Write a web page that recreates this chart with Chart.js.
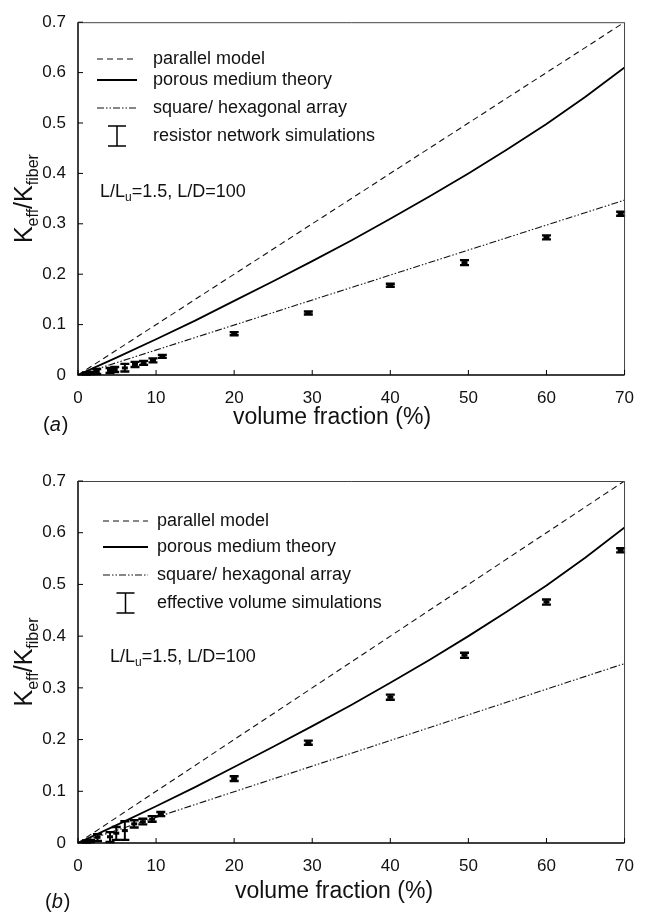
<!DOCTYPE html>
<html>
<head>
<meta charset="utf-8">
<script src="https://cdn.jsdelivr.net/npm/chart.js@4.4.1/dist/chart.umd.min.js"></script>
<style>
  body { margin: 0; background: #fff; }
  canvas { display: block; }
</style>
</head>
<body>
<canvas id="chartA" width="647" height="448"></canvas>
<canvas id="chartB" width="647" height="469"></canvas>
<script>
// axis ticks
const xTicks = [0, 10, 20, 30, 40, 50, 60, 70];
const yTicks = [0, 0.1, 0.2, 0.3, 0.4, 0.5, 0.6, 0.7];

// model curves (volume fraction in %)
const lineX = [0, 70];
const parallelY = [0, 0.7];
const arrayY = [0, 0.347];
const porousX = [0, 5, 10, 15, 20, 25, 30, 35, 40, 45, 50, 55, 60, 65, 70];
const porousY = [0, 0.035, 0.071, 0.108, 0.147, 0.186, 0.226, 0.267, 0.31, 0.354, 0.4, 0.448, 0.498, 0.552, 0.61];

// (a) resistor network simulations
const simXA = [1.1, 1.6, 2.4, 4.1, 4.7, 6.0, 7.3, 8.4, 9.6, 10.8, 20, 29.5, 40, 49.5, 60, 69.5];
const simYA = [0.003, 0.004, 0.007, 0.009, 0.011, 0.014, 0.021, 0.024, 0.029, 0.037, 0.082, 0.123, 0.178, 0.223, 0.273, 0.320];
const simLoA = [0.001, 0.002, 0.002, 0.004, 0.006, 0.007, 0.016, 0.020, 0.025, 0.034, 0.079, 0.120, 0.175, 0.218, 0.269, 0.316];
const simHiA = [0.005, 0.006, 0.012, 0.014, 0.016, 0.022, 0.026, 0.028, 0.033, 0.040, 0.085, 0.126, 0.181, 0.228, 0.277, 0.324];

// (b) effective volume simulations
const simXB = [1.1, 1.6, 2.5, 4.1, 4.9, 6.0, 7.2, 8.3, 9.5, 10.6, 20, 29.5, 40, 49.5, 60, 69.5];
const simYB = [0.003, 0.004, 0.011, 0.012, 0.019, 0.024, 0.037, 0.041, 0.046, 0.056, 0.1245, 0.194, 0.282, 0.363, 0.466, 0.566];
const simLoB = [0.001, 0.002, 0.004, 0.002, 0.006, 0.006, 0.030, 0.036, 0.041, 0.052, 0.120, 0.190, 0.277, 0.358, 0.461, 0.562];
const simHiB = [0.005, 0.006, 0.017, 0.021, 0.031, 0.042, 0.044, 0.047, 0.052, 0.060, 0.129, 0.198, 0.287, 0.368, 0.471, 0.570];

const FONT = "'Liberation Sans', Arial, Helvetica, sans-serif";
Chart.defaults.font.family = FONT;
Chart.defaults.color = "#111";

const DASH_PARALLEL = [6, 4];
const DASH_ARRAY = [7, 2, 1.5, 2, 1.5, 2];

function pts(xs, ys) {
  return xs.map((x, i) => ({ x: x, y: ys[i] }));
}

// frame, inward ticks, error bars, legend and labels
const paperPlugin = {
  id: "paper",
  afterDatasetsDraw(chart) {
    let ctx = chart.ctx;
    let ys = chart.scales.y;
    chart.data.datasets.forEach((ds, di) => {
      if (!ds.errLo) return;
      let meta = chart.getDatasetMeta(di);
      meta.data.forEach((p, i) => {
        let top = ys.getPixelForValue(ds.errHi[i]);
        let bot = ys.getPixelForValue(ds.errLo[i]);
        ctx.save();
        ctx.strokeStyle = "#000";
        ctx.lineWidth = 2;
        ctx.beginPath();
        ctx.moveTo(p.x, top);
        ctx.lineTo(p.x, bot);
        ctx.stroke();
        ctx.lineWidth = 2.4;
        ctx.beginPath();
        ctx.moveTo(p.x - 4.5, top);
        ctx.lineTo(p.x + 4.5, top);
        ctx.moveTo(p.x - 4.5, bot);
        ctx.lineTo(p.x + 4.5, bot);
        ctx.stroke();
        ctx.fillStyle = "#000";
        ctx.fillRect(p.x - 3, p.y - 1.5, 6, 3);
        ctx.restore();
      });
    });
  },
  afterDraw(chart) {
    let ctx = chart.ctx;
    let a = chart.chartArea;
    let o = chart.options.plugins.paper;
    let xs = chart.scales.x, ys = chart.scales.y;

    ctx.save();
    // frame
    ctx.strokeStyle = "#000";
    ctx.lineWidth = 1.5;
    ctx.beginPath();
    ctx.moveTo(a.left, a.top);
    ctx.lineTo(a.left, a.bottom);
    ctx.lineTo(a.right, a.bottom);
    ctx.stroke();
    ctx.strokeStyle = "#444";
    ctx.lineWidth = 1;
    ctx.beginPath();
    ctx.moveTo(a.left, a.top + 0.5);
    ctx.lineTo(a.right, a.top + 0.5);
    ctx.lineTo(a.right, a.bottom);
    ctx.stroke();

    // inward ticks
    ctx.strokeStyle = "#000";
    ctx.lineWidth = 1;
    ctx.beginPath();
    xTicks.forEach((v) => {
      let px = xs.getPixelForValue(v);
      ctx.moveTo(px, a.bottom);
      ctx.lineTo(px, a.bottom - 5);
    });
    yTicks.forEach((v) => {
      let py = ys.getPixelForValue(v);
      ctx.moveTo(a.left, py);
      ctx.lineTo(a.left + 5, py);
    });
    ctx.stroke();

    // legend
    ctx.textBaseline = "middle";
    ctx.textAlign = "left";
    ctx.font = "18px " + FONT;
    ctx.fillStyle = "#111";
    chart.data.datasets.forEach((ds, i) => {
      let y = o.legendRows[i];
      if (ds.errLo) {
        let cx = (o.legendX0 + o.legendX1) / 2;
        ctx.strokeStyle = "#000";
        ctx.lineWidth = 1.5;
        ctx.setLineDash([]);
        ctx.beginPath();
        ctx.moveTo(cx, y - 10);
        ctx.lineTo(cx, y + 10);
        ctx.moveTo(cx - 9, y - 10);
        ctx.lineTo(cx + 9, y - 10);
        ctx.moveTo(cx - 9, y + 10);
        ctx.lineTo(cx + 9, y + 10);
        ctx.stroke();
      } else {
        ctx.strokeStyle = ds.borderColor;
        ctx.lineWidth = ds.borderWidth;
        ctx.setLineDash(ds.borderDash || []);
        ctx.beginPath();
        ctx.moveTo(o.legendX0, y);
        ctx.lineTo(o.legendX1, y);
        ctx.stroke();
      }
      ctx.setLineDash([]);
      ctx.fillText(ds.label, o.legendTextX, y);
    });

    // L/Lu=1.5, L/D=100
    let nx = o.noteX, ny = o.noteY;
    ctx.font = "18px " + FONT;
    ctx.fillText("L/L", nx, ny);
    nx += ctx.measureText("L/L").width;
    ctx.font = "12px " + FONT;
    ctx.fillText("u", nx, ny + 6);
    nx += ctx.measureText("u").width;
    ctx.font = "18px " + FONT;
    ctx.fillText("=1.5, L/D=100", nx, ny);

    // x title
    ctx.textAlign = "center";
    ctx.font = "23px " + FONT;
    ctx.fillText("volume fraction (%)", o.xTitleX, o.xTitleY);

    // panel tag
    ctx.textAlign = "left";
    ctx.font = "20px " + FONT;
    let tx = o.tagX;
    ctx.fillText("(", tx, o.tagY);
    tx += ctx.measureText("(").width;
    ctx.font = "italic 20px " + FONT;
    ctx.fillText(o.tag, tx, o.tagY);
    tx += ctx.measureText(o.tag).width + 1;
    ctx.font = "20px " + FONT;
    ctx.fillText(")", tx, o.tagY);

    // y title, rotated, with subscripts
    let parts = [["K", 25, 0], ["eff", 16, 6], ["/K", 25, 0], ["fiber", 16, 6]];
    let total = 0;
    parts.forEach((p) => {
      ctx.font = p[1] + "px " + FONT;
      total += ctx.measureText(p[0]).width;
    });
    ctx.translate(o.yTitleX, (a.top + a.bottom) / 2);
    ctx.rotate(-Math.PI / 2);
    ctx.textBaseline = "alphabetic";
    let px = -total / 2;
    parts.forEach((p) => {
      ctx.font = p[1] + "px " + FONT;
      ctx.fillText(p[0], px, p[2]);
      px += ctx.measureText(p[0]).width;
    });
    ctx.restore();
  },
};

function makePanel(canvasId, simLabel, sx, sy, lo, hi, layout) {
  let ctx = document.getElementById(canvasId).getContext("2d");
  return new Chart(ctx, {
    type: "scatter",
    data: {
      datasets: [
        {
          label: "parallel model",
          data: pts(lineX, parallelY),
          showLine: true,
          borderColor: "#111",
          borderWidth: 1.1,
          borderDash: DASH_PARALLEL,
          pointRadius: 0,
        },
        {
          label: "porous medium theory",
          data: pts(porousX, porousY),
          showLine: true,
          borderColor: "#000",
          borderWidth: 1.8,
          pointRadius: 0,
        },
        {
          label: "square/ hexagonal array",
          data: pts(lineX, arrayY),
          showLine: true,
          borderColor: "#111",
          borderWidth: 1.1,
          borderDash: DASH_ARRAY,
          pointRadius: 0,
        },
        {
          label: simLabel,
          data: pts(sx, sy),
          showLine: false,
          pointRadius: 0,
          errLo: lo,
          errHi: hi,
        },
      ],
    },
    options: {
      responsive: false,
      animation: false,
      devicePixelRatio: 1,
      layout: { padding: { left: 0, top: layout.top, right: layout.right, bottom: 0 } },
      plugins: {
        legend: { display: false },
        tooltip: { enabled: false },
        paper: layout,
      },
      scales: {
        x: {
          type: "linear",
          min: 0,
          max: 70,
          afterBuildTicks: (s) => { s.ticks = xTicks.map((v) => ({ value: v })); },
          afterFit: (s) => { s.height = layout.xAxisH; },
          grid: { display: false, drawTicks: false },
          border: { display: false },
          ticks: { padding: 13, font: { size: 17 }, color: "#111" },
        },
        y: {
          type: "linear",
          min: 0,
          max: 0.7,
          afterBuildTicks: (s) => { s.ticks = yTicks.map((v) => ({ value: v })); },
          afterFit: (s) => { s.width = 78; },
          grid: { display: false, drawTicks: false },
          border: { display: false },
          ticks: {
            padding: 12,
            font: { size: 17 },
            color: "#111",
            callback: (v) => String(Math.round(v * 10) / 10),
          },
        },
      },
    },
    plugins: [paperPlugin],
  });
}

makePanel("chartA", "resistor network simulations", simXA, simYA, simLoA, simHiA, {
  top: 15, right: 20, xAxisH: 73,
  legendRows: [59, 80, 108, 136], legendX0: 97, legendX1: 137, legendTextX: 153,
  noteX: 100, noteY: 192,
  xTitleX: 332, xTitleY: 418,
  tag: "a", tagX: 43, tagY: 425,
  yTitleX: 32,
});

makePanel("chartB", "effective volume simulations", simXB, simYB, simLoB, simHiB, {
  top: 33, right: 22, xAxisH: 74,
  legendRows: [73, 99, 127, 155], legendX0: 103, legendX1: 148, legendTextX: 157,
  noteX: 110, noteY: 209,
  xTitleX: 334, xTitleY: 444,
  tag: "b", tagX: 45, tagY: 454,
  yTitleX: 32,
});
</script>
</body>
</html>
